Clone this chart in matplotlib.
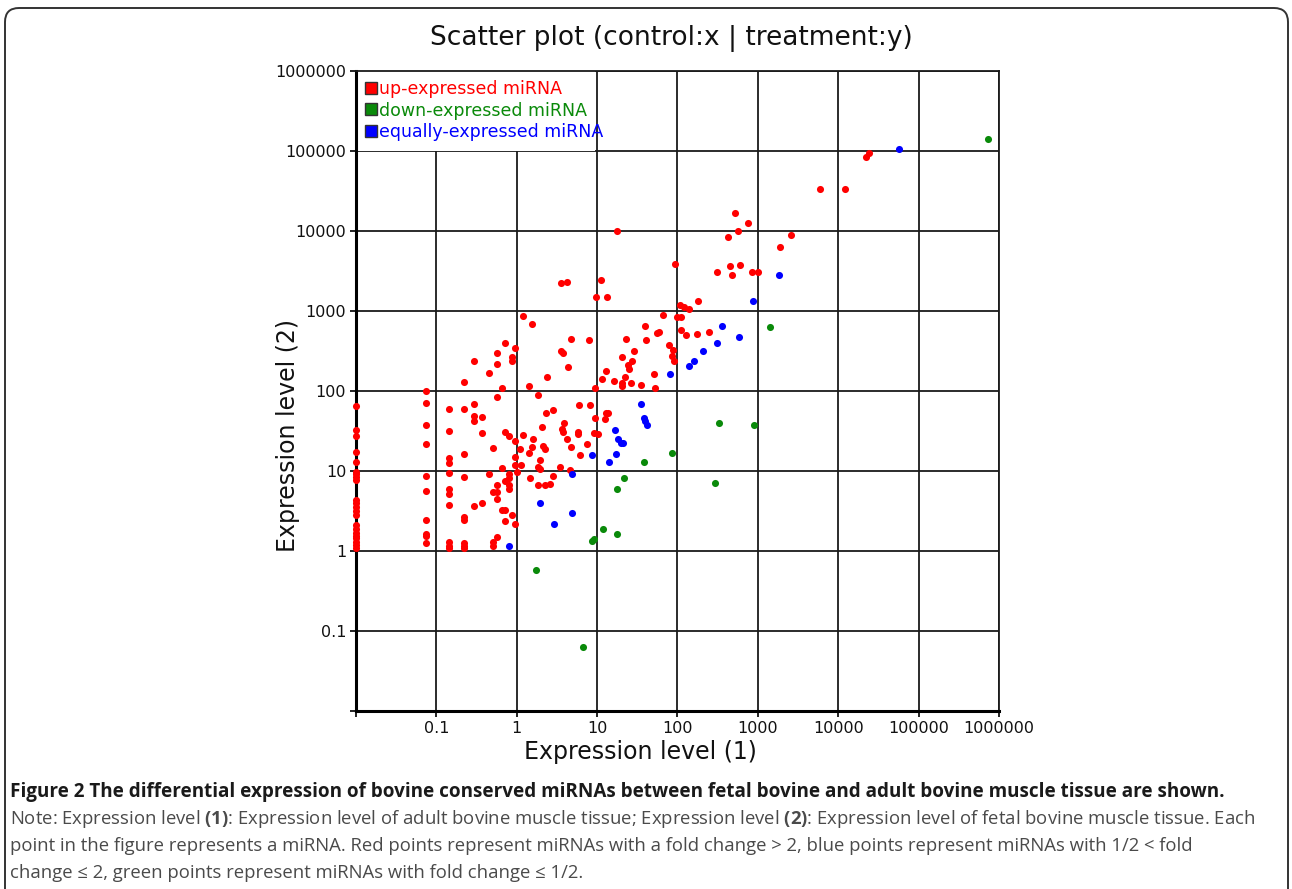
import matplotlib.pyplot as plt
from matplotlib.lines import Line2D
from matplotlib.patches import FancyBboxPatch, Rectangle
from matplotlib.transforms import IdentityTransform
from matplotlib.ticker import FixedLocator, FixedFormatter

plt.rcParams['font.family'] = ['DejaVu Sans']
plt.rcParams['mathtext.fontset'] = 'custom'
plt.rcParams['mathtext.rm'] = 'Open Sans'
plt.rcParams['mathtext.bf'] = 'Open Sans:bold'

# (control, treatment) expression levels
# red: fold change > 2
up_pts = [
    # zero control count, shown at the left edge
    (0.01, 65), (0.01, 33), (0.01, 27.5), (0.01, 17.4), (0.01, 12.8), (0.01, 9.7),
    (0.01, 9.2), (0.01, 8.5), (0.01, 7.7), (0.01, 4.3), (0.01, 3.95), (0.01, 3.6),
    (0.01, 3.2), (0.01, 2.8), (0.01, 2.1), (0.01, 1.9), (0.01, 1.7), (0.01, 1.55),
    (0.01, 1.44), (0.01, 1.3), (0.01, 1.19), (0.01, 1.08),
    # 0.01 - 1
    (0.074, 100), (0.074, 71), (0.074, 38), (0.074, 21.8), (0.074, 8.7), (0.074, 5.6),
    (0.074, 2.45), (0.074, 1.64), (0.074, 1.53), (0.074, 1.27),
    (0.143, 59), (0.143, 31.6), (0.143, 14.7), (0.143, 12.7), (0.143, 9.5), (0.143, 5.9),
    (0.143, 5.2), (0.143, 3.8), (0.143, 1.31), (0.143, 1.155), (0.143, 1.08),
    (0.224, 129), (0.224, 60), (0.224, 16.2), (0.224, 8.5), (0.224, 2.63), (0.224, 2.45),
    (0.224, 1.27), (0.224, 1.155), (0.224, 1.08),
    (0.292, 240), (0.292, 69), (0.292, 49), (0.292, 41.7), (0.292, 3.63),
    (0.366, 46.8), (0.366, 29.5), (0.366, 3.98),
    (0.447, 170), (0.447, 9.1),
    (0.507, 19.5), (0.507, 5.4), (0.507, 1.29), (0.507, 1.155),
    (0.575, 295), (0.575, 219), (0.575, 84), (0.575, 6.6), (0.575, 5.5), (0.575, 4.47),
    (0.575, 1.51),
    (0.66, 110), (0.66, 11), (0.66, 3.3),
    (0.724, 398), (0.724, 30.9), (0.724, 7.4), (0.724, 3.3), (0.724, 2.34),
    (0.80, 27.5), (0.80, 9.1), (0.80, 8.1), (0.80, 6.7), (0.80, 5.9),
    (0.883, 269), (0.883, 234), (0.883, 2.82),
    (0.944, 347), (0.944, 23.4), (0.944, 14.8), (0.944, 11.9), (0.944, 2.19),
    # 1 - 10
    (1.2, 871), (1.55, 692), (4.74, 447), (8.04, 437), (3.6, 316), (3.78, 295),
    (4.3, 200), (2.38, 148), (1.41, 117), (1.84, 89), (9.55, 110), (2.83, 57.5),
    (2.29, 53), (5.97, 67), (8.26, 67), (9.44, 45.7), (2.09, 35.5), (3.66, 33.9),
    (3.78, 30.9), (3.89, 39.8), (5.82, 30.9), (5.82, 28.8), (9.12, 29.5), (1.2, 28.2),
    (1.585, 25.1), (4.17, 25.1), (2.14, 20.4), (1.55, 20), (1.11, 18.6), (1.41, 17),
    (2.28, 18.8), (4.68, 20), (7.5, 21.9), (6.17, 15.8), (1.93, 13.8), (1.12, 11.9),
    (1.84, 11.2), (1.93, 10.5), (3.43, 11.2), (4.57, 10.2), (1.01, 9.8), (1.48, 8.1),
    (2.79, 8.7), (1.84, 6.6), (2.24, 6.7), (2.57, 6.9),
    (3.55, 2240), (4.27, 2290), (9.77, 1500),
    # 10 - 100
    (11.1, 2450), (13.2, 1500), (17.8, 10000),
    (11.5, 141), (12.9, 178), (16.2, 135), (20.4, 117), (20.7, 126), (22.4, 148),
    (26.3, 126), (35.5, 120), (52.5, 110), (50.7, 162), (25.1, 191), (24, 211),
    (27.2, 240), (20.4, 266), (29.2, 316), (22.9, 447), (40.3, 437), (38.9, 646),
    (55, 525), (58.2, 550), (66, 891), (77.6, 376), (88, 324), (85, 275), (91.2, 240),
    (97.7, 851), (13.8, 53), (12.9, 53), (12.4, 44.7), (10.2, 28.8), (94.4, 3890),
    # above 100
    (112, 832), (112, 575), (126, 501), (174, 513), (245, 550), (107, 1202),
    (120, 1122), (140, 1072), (178, 1349), (309, 3090), (447, 3630), (603, 3760),
    (479, 2820), (851, 3090), (1000, 3090), (525, 16600), (759, 12600), (562, 10000),
    (431, 8320), (2570, 8910), (1905, 6310), (5960, 33100), (12300, 33100),
    (24000, 93300), (22400, 85100),
]

# green: fold change <= 1/2
down_pts = [
    (724000, 141000), (1410, 631), (86, 17), (38, 12.9), (21.6, 8.1), (17.8, 6.0),
    (12, 1.9), (17.8, 1.62), (9.1, 1.4), (8.7, 1.35), (331, 39.8), (891, 37.2),
    (292, 7.1), (1.73, 0.575), (6.6, 0.063),
]

# blue: 1/2 < fold change <= 2
equal_pts = [
    (0.80, 1.155), (80.4, 162), (138, 204), (162, 240), (209, 316), (309, 398),
    (355, 646), (575, 479), (871, 1318), (1840, 2820), (57500, 104700),
    (35.5, 69), (38.5, 45.7), (38.9, 41.7), (41.7, 37.2), (16.6, 32.4), (18.2, 25.1),
    (20, 22.4), (20.9, 22.4), (17, 16.2), (14, 12.9), (8.7, 15.8), (4.9, 9.1),
    (1.97, 3.98), (4.9, 3.02), (2.92, 2.19),
]

groups = [
    ('up-expressed miRNA', up_pts, '#ff0000'),
    ('down-expressed miRNA', down_pts, '#0a8a0a'),
    ('equally-expressed miRNA', equal_pts, '#0000ff'),
]

tick_vals = [0.01, 0.1, 1, 10, 100, 1000, 10000, 100000, 1000000]
tick_labels = ['', '0.1', '1', '10', '100', '1000', '10000', '100000', '1000000']

fig = plt.figure(figsize=(12.92, 8.89), dpi=100)

# rounded frame round the whole figure
frame = FancyBboxPatch((5, -20), 1283, 901, boxstyle='round,pad=0,rounding_size=14',
                       transform=IdentityTransform(), facecolor='none',
                       edgecolor='#333333', lw=1.4)
fig.patches.append(frame)

ax = fig.add_axes([0.2755, 0.2002, 0.4977, 0.7199])
ax.set_xscale('log')
ax.set_yscale('log')
ax.set_xlim(0.01, 1000000)
ax.set_ylim(0.01, 1000000)

for name, pts, col in groups:
    xs = [p[0] for p in pts]
    ys = [p[1] for p in pts]
    ax.scatter(xs, ys, s=26, color=col, linewidths=0, zorder=3, clip_on=False)

for axis in (ax.xaxis, ax.yaxis):
    axis.set_major_locator(FixedLocator(tick_vals))
    axis.set_major_formatter(FixedFormatter(tick_labels))
    axis.set_minor_locator(FixedLocator([]))

ax.grid(True, color='#1a1a1a', lw=1.3)
ax.set_axisbelow(True)
for side in ['top', 'right']:
    ax.spines[side].set_linewidth(1.3)
    ax.spines[side].set_color('#1a1a1a')
for side in ['left', 'bottom']:
    ax.spines[side].set_linewidth(2.2)
ax.tick_params(axis='both', labelsize=11.5, length=4, width=1.3, pad=3, colors='#111111')

ax.set_xlabel('Expression level (1)', fontsize=17, color='#111111')
ax.xaxis.set_label_coords(0.4417, -0.064)
ax.xaxis.label.set_va('center')
ax.set_ylabel('Expression level (2)', fontsize=17, color='#111111')
ax.yaxis.set_label_coords(-0.1058, 0.431)
ax.yaxis.label.set_va('center')

# white patch behind the legend, hides the grid up to the x=10 line
ax.add_patch(Rectangle((0, 0.875), 0.372, 0.125, transform=ax.transAxes,
                       facecolor='white', edgecolor='none', zorder=1))

handles = [Line2D([], [], marker='s', ls='', markersize=9, markerfacecolor=c,
                  markeredgecolor='#333333', markeredgewidth=1.0)
           for _, _, c in groups]
leg = ax.legend(handles, [g[0] for g in groups], loc='upper left',
                bbox_to_anchor=(0, 1), borderaxespad=0, frameon=False,
                fontsize=12.5, handlelength=0.7, handletextpad=0.15,
                labelspacing=0.22, borderpad=0.5,
                labelcolor=[g[2] for g in groups])
leg.set_zorder(5)

fig.text(0.52, 1 - 38 / 889, 'Scatter plot (control:x | treatment:y)', fontsize=19,
         ha='center', va='center', color='#111111')

# caption
cap_font = ['Open Sans', 'DejaVu Sans']
fig.text(10 / 1292, 1 - 792 / 889,
         'Figure 2 The differential expression of bovine conserved miRNAs between fetal '
         'bovine and adult bovine muscle tissue are shown.',
         family=cap_font, fontsize=13.6, fontweight='bold', color='#1a1a1a',
         va='center', ha='left')
note_lines = [
    r'Note: Expression level $\mathbf{(1)}$: Expression level of adult bovine muscle tissue; '
    r'Expression level $\mathbf{(2)}$: Expression level of fetal bovine muscle tissue. Each',
    'point in the figure represents a miRNA. Red points represent miRNAs with a fold '
    'change > 2, blue points represent miRNAs with 1/2 < fold',
    'change \u2264 2, green points represent miRNAs with fold change \u2264 1/2.',
]
for i, line in enumerate(note_lines):
    fig.text(10 / 1292, 1 - (819 + 27 * i) / 889, line, family=cap_font, fontsize=13.3,
             color='#4a4a4a', va='center', ha='left')

fig.savefig('out.png', dpi=100)
